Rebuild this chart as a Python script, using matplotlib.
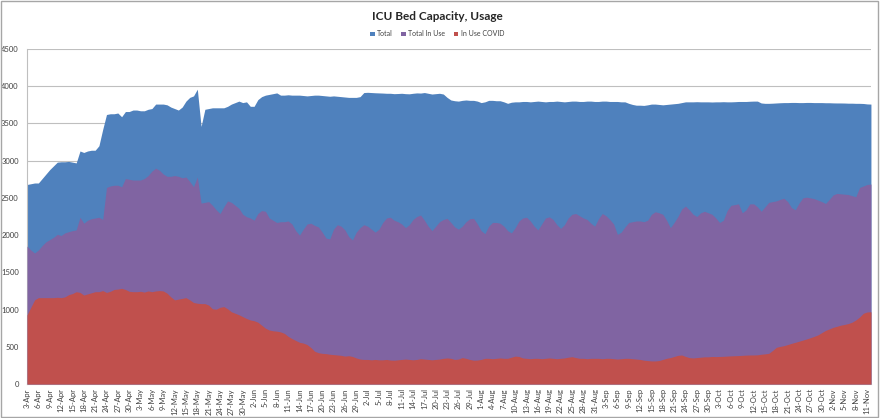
import matplotlib.pyplot as plt
import matplotlib.patches as mpatches
import numpy as np
import pandas as pd

# daily values, 3-Apr .. 12-Nov
total = [
    2680, 2690, 2700, 2700, 2760, 2820, 2880, 2930, 2980, 2985,
    2985, 2990, 2980, 2970, 3130, 3110, 3130, 3140, 3140, 3200,
    3420, 3620, 3630, 3630, 3640, 3590, 3660, 3660, 3680, 3680,
    3670, 3670, 3690, 3700, 3760, 3760, 3760, 3750, 3720, 3700,
    3680, 3720, 3800, 3850, 3870, 3960, 3460, 3690, 3700, 3710,
    3710, 3710, 3710, 3730, 3760, 3780, 3800, 3780, 3790, 3730,
    3730, 3820, 3860, 3880, 3890, 3900, 3910, 3880, 3880, 3885,
    3880, 3880, 3880, 3875, 3870, 3875, 3880, 3880, 3875, 3870,
    3865, 3870, 3865, 3860, 3855, 3850, 3850, 3850, 3860, 3915,
    3918, 3915, 3912, 3910, 3908, 3905, 3905, 3900, 3902, 3905,
    3900, 3898, 3905, 3910, 3908, 3915, 3905, 3895, 3900, 3905,
    3895, 3850, 3815, 3805, 3800, 3810, 3815, 3810, 3810, 3800,
    3780, 3790, 3810, 3810, 3805, 3805, 3790, 3770, 3785, 3790,
    3790, 3795, 3795, 3790, 3795, 3800, 3795, 3790, 3795, 3795,
    3800, 3795, 3790, 3795, 3800, 3800, 3795, 3795, 3800, 3800,
    3795, 3795, 3800, 3800, 3795, 3795, 3795, 3790, 3790, 3770,
    3755, 3745, 3745, 3742, 3750, 3760, 3760, 3755, 3750, 3755,
    3760, 3765, 3770, 3780, 3790, 3790, 3790, 3792, 3790, 3790,
    3790, 3788, 3790, 3790, 3792, 3790, 3790, 3792, 3795, 3795,
    3795, 3798, 3800, 3800, 3775, 3770, 3770, 3772, 3775, 3778,
    3780, 3780, 3782, 3782, 3780, 3780, 3782, 3782, 3780, 3780,
    3780, 3778, 3778, 3776, 3775, 3775, 3774, 3772, 3772, 3770,
    3770, 3768, 3762, 3760,
]

total_in_use = [
    1853, 1800, 1760, 1800, 1860, 1910, 1940, 1970, 2010, 1995,
    2030, 2046, 2060, 2070, 2240, 2160, 2200, 2220, 2230, 2240,
    2210, 2640, 2660, 2670, 2670, 2650, 2760, 2750, 2740, 2740,
    2740, 2760, 2800, 2860, 2900, 2870, 2820, 2790, 2790, 2800,
    2790, 2770, 2780, 2720, 2650, 2780, 2430, 2440, 2450, 2400,
    2340, 2290, 2380, 2460, 2440, 2400, 2360, 2280, 2247, 2230,
    2200, 2290, 2330, 2320, 2230, 2200, 2170, 2180, 2180, 2190,
    2150, 2060, 2000, 2080, 2150, 2160, 2130, 2110, 2040, 1960,
    1950, 2080, 2140, 2120, 2070, 1980, 1935, 2040, 2100, 2140,
    2120, 2080, 2040, 2080, 2170, 2230, 2240, 2200, 2180, 2150,
    2100, 2140, 2210, 2250, 2270, 2200, 2120, 2060, 2120, 2180,
    2210, 2225, 2170, 2110, 2080, 2120, 2180, 2220, 2225, 2150,
    2060, 2020, 2120, 2170, 2170, 2160, 2120, 2060, 2030, 2100,
    2190, 2230, 2240, 2190, 2120, 2070, 2150, 2230, 2245, 2210,
    2140, 2090, 2140, 2230, 2280, 2290, 2260, 2230, 2210, 2160,
    2120, 2220, 2290, 2260, 2210, 2150, 2010, 2040, 2110, 2170,
    2180, 2190, 2190, 2180, 2200, 2280, 2314, 2300, 2280, 2200,
    2100, 2170, 2250, 2350, 2390, 2340, 2280, 2250, 2300, 2320,
    2300, 2280, 2230, 2170, 2200, 2330, 2400, 2410, 2420, 2300,
    2340, 2420, 2420, 2380, 2320, 2380, 2440, 2450, 2460, 2480,
    2495, 2450, 2370, 2340, 2430, 2500, 2510, 2500, 2490, 2470,
    2450, 2425, 2480, 2540, 2560, 2555, 2550, 2545, 2530, 2515,
    2640, 2660, 2680, 2686,
]

in_use_covid = [
    927, 1030, 1130, 1160, 1160, 1160, 1160, 1160, 1165, 1160,
    1170, 1200, 1215, 1240, 1230, 1195, 1210, 1225, 1240, 1240,
    1255, 1230, 1245, 1270, 1275, 1285, 1270, 1245, 1240, 1240,
    1245, 1235, 1250, 1240, 1250, 1255, 1250, 1220, 1170, 1130,
    1140, 1150, 1160, 1130, 1095, 1085, 1080, 1080, 1060, 1010,
    1005, 1030, 1040, 1010, 970, 950, 930, 905, 880, 860,
    850, 830, 790, 750, 725, 715, 710, 700, 680, 640,
    610, 585, 560, 550, 530, 490, 440, 420, 412, 408,
    400, 395, 390, 385, 375, 380, 370, 350, 335, 330,
    330, 325, 330, 325, 325, 330, 322, 320, 325, 330,
    335, 330, 325, 330, 340, 335, 330, 325, 330, 335,
    345, 350, 345, 330, 335, 355, 345, 330, 320, 322,
    330, 345, 345, 340, 345, 350, 345, 345, 360, 375,
    370, 350, 345, 340, 345, 345, 340, 345, 350, 345,
    340, 345, 350, 360, 367, 355, 345, 345, 340, 345,
    345, 345, 340, 345, 345, 340, 335, 340, 345, 345,
    340, 335, 330, 320, 315, 310, 310, 315, 330, 345,
    355, 370, 385, 390, 370, 355, 350, 355, 360, 365,
    365, 370, 368, 370, 372, 375, 378, 380, 382, 385,
    388, 390, 390, 392, 400, 405, 412, 450, 493, 505,
    515, 530, 546, 560, 575, 590, 605, 622, 640, 660,
    690, 720, 740, 761, 775, 790, 800, 812, 830, 860,
    900, 950, 968, 970,
]

dates = pd.date_range('2020-04-03', periods=len(total), freq='D')
labels = [f"{d.day}-{d.strftime('%b')}" for d in dates]

plt.rcParams['font.family'] = ['Lato', 'DejaVu Sans']

fig = plt.figure(figsize=(8.8, 4.18), dpi=100)
ax = fig.add_axes([0.0307, 0.0813, 0.959, 0.8015])

x = np.arange(len(total))
ax.fill_between(x, 0, total, color='#4F81BD', lw=0, label='Total', zorder=2)
ax.fill_between(x, 0, total_in_use, color='#8064A2', lw=0, label='Total In Use', zorder=3)
ax.fill_between(x, 0, in_use_covid, color='#C0504D', lw=0, label='In Use COVID', zorder=4)

ax.set_xlim(0, len(total) - 1)
ax.set_ylim(0, 4500)
ax.set_yticks(range(0, 4501, 500))
ax.yaxis.grid(True, color='#BFBFBF', lw=0.8, zorder=0)
ax.set_axisbelow(True)
ax.tick_params(axis='y', length=0, labelsize=5.5, labelcolor='#404040', pad=6)

ax.set_xticks(x[::3])
ax.set_xticklabels(labels[::3], rotation=90, fontsize=5.5, color='#404040')
ax.tick_params(axis='x', length=0, pad=3)

for s in ['top', 'right']:
    ax.spines[s].set_visible(False)
ax.spines['left'].set_color('#BFBFBF')
ax.spines['bottom'].set_color('#BFBFBF')

fig.text(0.497, 1 - 17 / 418, 'ICU Bed Capacity, Usage', ha='center', va='center',
         fontsize=8.5, fontweight='bold', color='#262626')
fig.legend(loc='center', bbox_to_anchor=(0.497, 1 - 34 / 418), ncol=3, frameon=False,
           fontsize=5, handlelength=0.6, handleheight=0.6, handletextpad=0.4,
           columnspacing=1.2, labelcolor='#404040', borderpad=0)

# chart border
fig.patches.append(mpatches.Rectangle((0.001, 0.002), 0.997, 0.995, transform=fig.transFigure,
                                      fill=False, edgecolor='#A6A6A6', lw=1))

fig.savefig('out.png', dpi=100)
